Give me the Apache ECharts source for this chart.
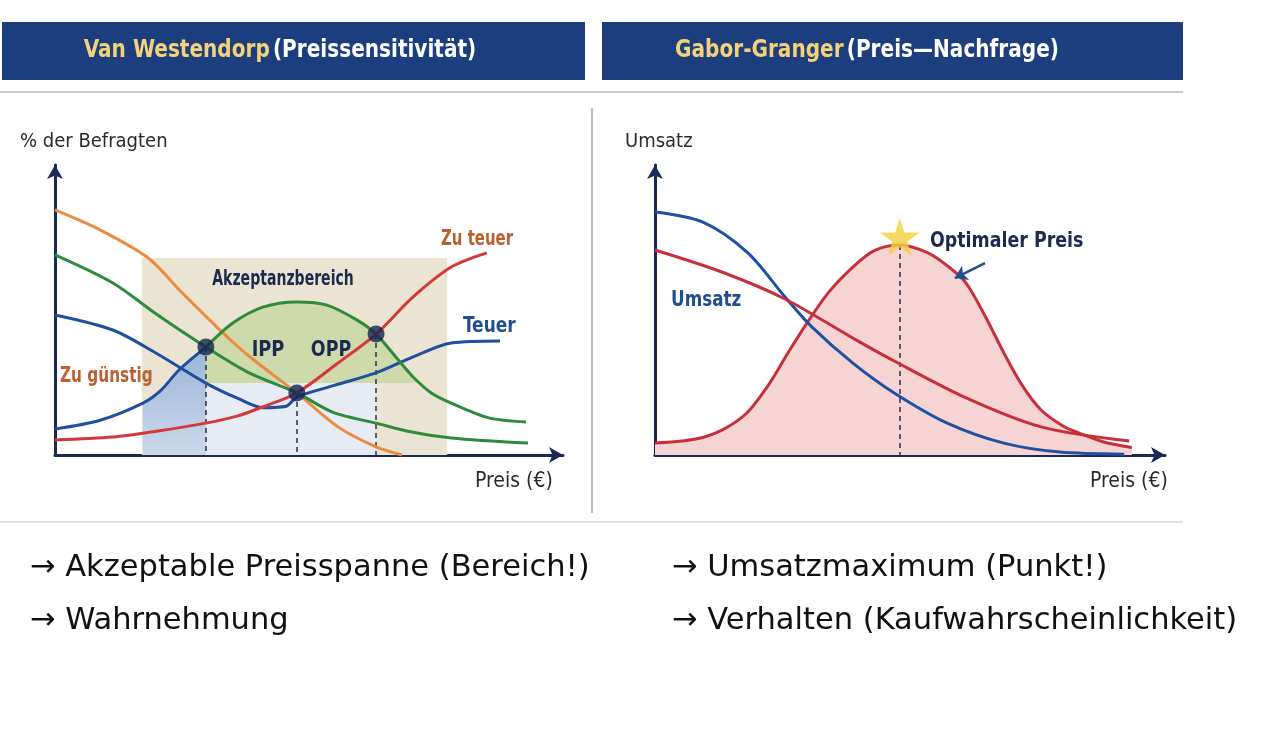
<!DOCTYPE html>
<html>
<head>
<meta charset="utf-8">
<script src="https://cdn.jsdelivr.net/npm/echarts@6/dist/echarts.min.js"></script>
<style>
  html, body { margin: 0; padding: 0; background: #fff; }
  #chart { width: 1273px; height: 732px; }
</style>
</head>
<body>
<div id="chart"></div>
<script>
// Van Westendorp curves, [price, % of respondents] (both 0..100)
const zuGuenstig = [[0, 84.5], [8.9, 77.6], [18.3, 68], [25, 56], [32.9, 42.4], [38.4, 33.8], [47.6, 21.4], [55.7, 9.7], [63.2, 2.8], [68.3, 0]];
const guenstig = [[0, 69], [11.4, 59.3], [20, 48.5], [29.7, 37.2], [38, 28.5], [47.6, 21.4], [55, 14.5], [63.2, 11], [70, 8], [78, 5.9], [93.1, 4.1]];
const teuer = [[0, 48.3], [11.4, 43.1], [20, 35], [29.7, 24.8], [36, 19.5], [41, 16.3], [45.5, 16.8], [47.6, 20], [55, 24], [63.2, 28.3], [70.5, 33.8], [78, 38.6], [87.6, 39.3]];
const nichtGuenstig = [[0, 9], [8.9, 12], [17.3, 17.9], [20.9, 22.4], [24.4, 29.3], [29.7, 37.2]];
const nichtTeuer = [[29.7, 37.2], [35, 45.5], [40.9, 51], [47.6, 52.8], [53.5, 51.7], [59.4, 46.6], [63.2, 41.7], [67, 34], [70.5, 26.9], [74, 21.5], [78, 17.9], [85.4, 12.8], [92.7, 11.4]];
const zuTeuer = [[0, 5.2], [11.4, 6.2], [20, 8.2], [29.7, 11], [36, 13.5], [40.9, 16.6], [47.6, 21.4], [55.7, 31.7], [63.2, 41.7], [70.5, 54.5], [78, 64.8], [85, 69.7]];
const schnittpunkte = [[29.7, 37.2], [47.6, 21.4], [63.2, 41.7]];
const akzeptanz = { from: 17.1, to: 77.2, top: 67.9 };
const kernBereich = { from: 29.7, to: 63.2, top: 24.8 };
const blauFlaeche = [[17.3, 17.9], [20.9, 22.4], [24.4, 29.3], [29.7, 37.2]];
const gruenFlaeche = [[29.7, 37.2], [35, 45.5], [40.9, 51], [47.6, 52.8], [53.5, 51.7], [59.4, 46.6], [63.2, 41.7], [67, 34], [71.5, 24.8]];

// Gabor-Granger curves
const nachfrage = [[0, 83.8], [9.4, 80.3], [18.2, 69.7], [25.5, 54.5], [30.8, 44.1], [38.8, 31.7], [46.9, 21.4], [57.3, 11], [68.4, 4.1], [79.4, 1], [92, 0.3]];
const kaufWahrsch = [[0, 70.7], [13.1, 63.1], [25.5, 53.8], [38.8, 40.3], [46.9, 32.4], [61, 19.7], [75.7, 9.7], [93, 4.8]];
const umsatz = [[0, 4.1], [8, 5.5], [13.1, 8.6], [18, 14.5], [22.5, 24.8], [26, 35], [29.8, 45.5], [34, 56], [38.8, 64.8], [43, 70.5], [48, 72.4], [53.5, 69.7], [57.5, 65], [61, 59.3], [65, 47], [68.4, 35.2], [72, 24], [75.7, 15.5], [80, 10], [83.1, 7.6], [88, 4.5], [93.5, 2.6]];
const optimum = [48, 72.4];
const sternPos = [48, 75.2];
const pfeil = [[64.7, 66.2], [58.8, 61]];

const navy = '#1b2a55';
const condensed = "'Liberation Sans Narrow', 'DejaVu Sans Condensed', 'Roboto', sans-serif";
const plain = "'DejaVu Sans', Verdana, sans-serif";
const SMOOTH = 0.3;

const axis = idx => ({
  type: 'value', gridIndex: idx, min: 0, max: 100,
  axisLine: { show: true, symbol: ['none', 'arrow'], symbolSize: [12, 14], lineStyle: { color: navy, width: 3 } },
  axisTick: { show: false }, axisLabel: { show: false }, splitLine: { show: false }
});

const curve = (data, color, idx, z) => ({
  type: 'line', data, xAxisIndex: idx, yAxisIndex: idx, smooth: SMOOTH,
  symbol: 'none', lineStyle: { color, width: 3 }, z: z || 5, silent: true
});

// sx squeezes the text sideways, the reference uses a condensed face
const txt = (x, y, text, size, color, weight, family, align, sx) => ({
  type: 'text', x, y, z: 50, scaleX: sx || 1,
  style: { text, fontSize: size, fill: color, fontWeight: weight || 'normal', fontFamily: family || condensed, align: align || 'left', verticalAlign: 'middle' }
});

const myChart = echarts.init(document.querySelector('#chart'));

const option = {
  backgroundColor: '#ffffff',
  animation: false,
  grid: [
    { left: 55, top: 165, width: 508, height: 290 },
    { left: 655, top: 165, width: 510, height: 290 }
  ],
  xAxis: [axis(0), axis(1)],
  yAxis: [axis(0), axis(1)],
  series: [
    // background ranges
    {
      type: 'line', data: [], xAxisIndex: 0, yAxisIndex: 0, z: 1,
      markArea: {
        silent: true,
        data: [
          [{ xAxis: akzeptanz.from, yAxis: 0, itemStyle: { color: '#ece4d2' } }, { xAxis: akzeptanz.to, yAxis: akzeptanz.top }],
          [{ xAxis: kernBereich.from, yAxis: 0, itemStyle: { color: '#e7ebf4' } }, { xAxis: kernBereich.to, yAxis: kernBereich.top }]
        ]
      }
    },
    {
      type: 'line', data: blauFlaeche, xAxisIndex: 0, yAxisIndex: 0, smooth: SMOOTH, symbol: 'none', z: 2,
      lineStyle: { width: 0 },
      areaStyle: {
        opacity: 1,
        color: new echarts.graphic.LinearGradient(0, 0, 0, 1, [
          { offset: 0, color: '#9ab5d8' },
          { offset: 1, color: '#cbd8ea' }
        ])
      }
    },
    {
      type: 'line', data: gruenFlaeche, xAxisIndex: 0, yAxisIndex: 0, smooth: SMOOTH, symbol: 'none', z: 2,
      lineStyle: { width: 0 },
      areaStyle: { origin: kernBereich.top, color: '#cedaab', opacity: 1 }
    },
    curve(zuGuenstig, '#ea8c3f', 0),
    curve(guenstig, '#2f8a3c', 0),
    curve(teuer, '#1f4f9e', 0),
    curve(nichtGuenstig, '#1f4f9e', 0),
    curve(nichtTeuer, '#2f8a3c', 0),
    curve(zuTeuer, '#d3393a', 0),
    {
      type: 'scatter', data: schnittpunkte, xAxisIndex: 0, yAxisIndex: 0, z: 10,
      symbolSize: 17, itemStyle: { color: '#14244f' }, silent: true,
      markLine: {
        silent: true, symbol: 'none', z: 4,
        lineStyle: { color: '#2a2f45', type: [5, 4], width: 1.5 },
        label: { show: false },
        data: schnittpunkte.map(p => [{ coord: p }, { coord: [p[0], 0] }])
      }
    },
    // Gabor-Granger
    {
      type: 'line', data: umsatz, xAxisIndex: 1, yAxisIndex: 1, smooth: SMOOTH, symbol: 'none', z: 4,
      lineStyle: { color: '#c7303a', width: 3 },
      areaStyle: { color: '#f6d4d4', opacity: 1 },
      markLine: {
        silent: true, symbol: 'none',
        lineStyle: { color: '#2a2f45', type: [5, 4], width: 1.5 },
        label: { show: false },
        data: [[{ coord: optimum }, { coord: [optimum[0], 0] }]]
      }
    },
    curve(nachfrage, '#2050a0', 1, 5),
    curve(kaufWahrsch, '#c7303a', 1, 5),
    {
      type: 'scatter', data: [sternPos], xAxisIndex: 1, yAxisIndex: 1, z: 10, silent: true,
      symbol: 'path://M50,0 L61,35 L98,35 L68,57 L79,91 L50,70 L21,91 L32,57 L2,35 L39,35 Z',
      symbolSize: [40, 38], itemStyle: { color: '#f4cf3c' },
      markLine: {
        silent: true, symbol: ['none', 'arrow'], symbolSize: 12,
        lineStyle: { color: '#1f4f8f', type: 'solid', width: 2.5 },
        label: { show: false },
        data: [[{ coord: pfeil[0] }, { coord: pfeil[1] }]]
      }
    }
  ],
  graphic: [
    { type: 'rect', shape: { x: 2, y: 22, width: 583, height: 58 }, style: { fill: '#1c3d7e' }, z: 20 },
    { type: 'rect', shape: { x: 602, y: 22, width: 581, height: 58 }, style: { fill: '#1c3d7e' }, z: 20 },
    { type: 'rect', shape: { x: 0, y: 91, width: 1183, height: 2 }, style: { fill: '#c9ccd6' }, z: 20 },
    { type: 'rect', shape: { x: 0, y: 521, width: 1183, height: 2 }, style: { fill: '#dfe1e8' }, z: 20 },
    { type: 'rect', shape: { x: 591, y: 108, width: 2, height: 405 }, style: { fill: '#b8bccb' }, z: 20 },
    {
      type: 'text', x: 280, y: 51, z: 30, scaleX: 0.93,
      style: {
        text: '{y|Van Westendorp} {w|(Preissensitivität)}', align: 'center', verticalAlign: 'middle',
        rich: {
          y: { fill: '#f3d27a', fontSize: 24, fontWeight: 'bold', fontFamily: condensed },
          w: { fill: '#ffffff', fontSize: 24, fontWeight: 'bold', fontFamily: condensed }
        }
      }
    },
    {
      type: 'text', x: 867, y: 51, z: 30, scaleX: 0.93,
      style: {
        text: '{y|Gabor-Granger} {w|(Preis—Nachfrage)}', align: 'center', verticalAlign: 'middle',
        rich: {
          y: { fill: '#f3d27a', fontSize: 24, fontWeight: 'bold', fontFamily: condensed },
          w: { fill: '#ffffff', fontSize: 24, fontWeight: 'bold', fontFamily: condensed }
        }
      }
    },
    txt(20, 142, '% der Befragten', 20, '#2a2a2a'),
    txt(475, 482, 'Preis (€)', 21, '#2a2a2a'),
    txt(625, 142, 'Umsatz', 20, '#2a2a2a'),
    txt(1090, 482, 'Preis (€)', 21, '#2a2a2a'),
    txt(283, 279, 'Akzeptanzbereich', 22, '#1b2a4e', 'bold', condensed, 'center', 0.71),
    txt(268, 350, 'IPP', 22, '#1b2a4e', 'bold', condensed, 'center', 0.9),
    txt(331, 350, 'OPP', 22, '#1b2a4e', 'bold', condensed, 'center', 0.88),
    txt(60, 377, 'Zu günstig', 21, '#b8612f', 'bold', condensed, 'left', 0.81),
    txt(441, 240, 'Zu teuer', 21, '#b8612f', 'bold', condensed, 'left', 0.79),
    txt(463, 326, 'Teuer', 22, '#1f4f8f', 'bold', condensed, 'left', 0.86),
    txt(930, 241, 'Optimaler Preis', 22, '#1b2a4e', 'bold', condensed, 'left', 0.88),
    txt(671, 301, 'Umsatz', 21, '#1f4f8f', 'bold', condensed, 'left', 0.89),
    txt(30, 568, '→ Akzeptable Preisspanne (Bereich!)', 30.5, '#111111', 'normal', plain),
    txt(30, 621, '→ Wahrnehmung', 30.5, '#111111', 'normal', plain),
    txt(672, 568, '→ Umsatzmaximum (Punkt!)', 30.5, '#111111', 'normal', plain),
    txt(672, 621, '→ Verhalten (Kaufwahrscheinlichkeit)', 30.5, '#111111', 'normal', plain)
  ]
};

myChart.setOption(option);
</script>
</body>
</html>
